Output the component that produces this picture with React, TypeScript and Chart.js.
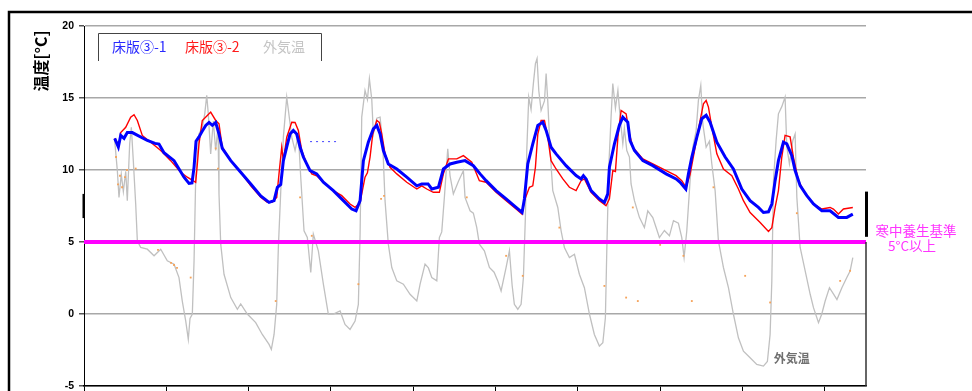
import React, { useEffect, useRef } from "react";
import { Chart, registerables } from "chart.js";
Chart.register(...registerables);

// ---- axes / labels ----
const xTickValues = [0, 1, 2, 3, 4, 5, 6, 7, 8, 9];
const yTickValues = [-5, 0, 5, 10, 15, 20];
const seriesNames = ["床版③-1", "床版③-2", "外気温"];
const yTitle = "温度[°C]";
const thresholdLines = ["寒中養生基準", "5°C以上"];
const outsideLabel = "外気温";
const thresholdValue = 5;

// ---- 床版③-1 (blue) ----
const blueT = [0.373,0.417,0.446,0.486,0.526,0.587,0.769,0.863,0.911,0.972,
1.094,1.215,1.276,1.312,1.337,1.361,1.397,1.437,1.479,1.519,
1.559,1.6,1.64,1.68,1.783,1.904,2.026,2.147,2.248,2.309,
2.349,2.39,2.422,2.463,2.503,2.543,2.584,2.625,2.665,2.746,
2.827,2.908,3.029,3.151,3.253,3.305,3.354,3.394,3.454,3.515,
3.557,3.597,3.637,3.697,3.8,3.921,4.043,4.103,4.18,4.225,
4.305,4.366,4.447,4.529,4.629,4.73,4.812,4.885,5.006,5.128,
5.249,5.322,5.35,5.391,5.452,5.513,5.573,5.614,5.674,5.735,
5.856,5.978,6.039,6.067,6.1,6.16,6.261,6.322,6.363,6.383,
6.444,6.504,6.546,6.606,6.634,6.687,6.789,6.91,7.072,7.193,
7.242,7.311,7.343,7.384,7.445,7.505,7.558,7.606,7.688,7.789,
7.889,7.991,8.092,8.193,8.254,8.315,8.356,8.396,8.436,8.497,
8.538,8.599,8.639,8.7,8.781,8.862,8.963,9.064,9.165,9.267,
9.34];
const blueV = [12.2,11.6,12.4,12.2,12.6,12.6,12.05,11.85,11.8,11.2,
10.65,9.5,9.07,9.1,10.2,12.0,12.3,12.7,13.1,13.3,
13.1,13.3,12.5,11.5,10.65,9.84,9.03,8.2,7.75,7.87,
8.8,9.0,10.65,11.6,12.5,12.75,12.5,11.6,10.9,9.96,
9.73,9.15,8.57,7.87,7.29,7.17,7.87,10.65,11.93,12.86,
13.1,12.5,11.35,10.42,10.07,9.5,8.9,9.03,9.03,8.68,
8.8,10.07,10.42,10.54,10.65,10.3,9.73,9.26,8.57,7.99,
7.4,7.05,7.99,10.42,11.82,13.1,13.32,12.75,11.58,11.12,
10.3,9.61,9.38,9.61,9.38,8.57,7.99,7.75,8.34,10.19,
11.82,13.1,13.67,13.32,12.05,11.35,10.65,10.3,9.73,9.38,
9.15,8.68,9.73,10.9,12.28,13.56,13.8,13.32,11.93,10.9,
10.07,8.68,7.87,7.4,7.05,7.1,7.64,9.26,10.65,11.93,
11.82,11.0,9.96,8.91,8.22,7.64,7.17,7.17,6.71,6.71,
6.94];

// ---- 床版③-2 (red) ----
const redT = [0.373,0.425,0.446,0.507,0.567,0.608,0.648,0.708,0.81,0.932,
1.053,1.175,1.255,1.357,1.377,1.397,1.437,1.498,1.539,1.6,
1.64,1.68,1.783,1.904,2.026,2.147,2.227,2.284,2.341,2.369,
2.402,2.422,2.463,2.524,2.564,2.604,2.645,2.706,2.767,2.827,
2.908,3.029,3.131,3.232,3.293,3.354,3.414,3.443,3.475,3.508,
3.557,3.588,3.617,3.657,3.718,3.8,3.921,4.043,4.103,4.164,
4.244,4.317,4.366,4.427,4.529,4.609,4.711,4.803,4.885,5.006,
5.128,5.249,5.322,5.35,5.411,5.452,5.484,5.513,5.553,5.594,
5.634,5.674,5.735,5.817,5.897,5.978,6.039,6.079,6.16,6.261,
6.342,6.383,6.424,6.456,6.486,6.525,6.586,6.626,6.667,6.789,
6.91,7.072,7.193,7.262,7.315,7.363,7.424,7.485,7.525,7.558,
7.586,7.627,7.688,7.768,7.87,7.95,8.011,8.092,8.214,8.315,
8.356,8.396,8.436,8.477,8.517,8.578,8.618,8.679,8.761,8.862,
8.963,9.064,9.104,9.165,9.226,9.34];
const redV = [12.2,11.7,12.6,12.97,13.67,13.84,13.44,12.4,11.93,11.35,
10.65,9.84,9.5,9.15,10.42,11.82,13.44,13.79,14.02,13.44,
13.21,11.58,10.65,9.84,8.91,8.1,7.75,7.75,8.1,9.73,
11.58,10.65,12.28,13.32,13.3,12.75,11.35,10.42,9.73,9.6,
9.15,8.57,8.22,7.64,7.4,7.75,9.5,9.8,10.9,12.5,
13.44,13.3,12.5,11.12,10.19,9.73,9.15,8.68,8.9,8.68,
8.45,8.45,9.73,10.77,10.77,11.0,10.54,9.26,9.15,8.45,
7.87,7.29,6.94,7.87,8.8,8.9,10.19,12.5,13.44,13.44,
12.28,10.65,10.07,9.38,8.8,8.57,9.26,9.38,8.45,7.87,
7.52,8.0,9.96,9.9,12.28,14.14,13.9,12.5,11.58,10.77,
10.42,9.96,9.61,9.26,8.8,9.7,11.58,13.44,14.6,14.83,
14.37,12.97,11.12,10.07,9.61,8.68,7.87,7.05,6.36,5.73,
6.0,7.4,8.57,10.9,12.4,12.3,10.9,9.26,8.34,7.64,
7.29,7.4,7.29,6.94,7.29,7.4];

// ---- 外気温 (gray) ----
const grayT = [0.373,0.405,0.425,0.453,0.478,0.507,0.526,0.555,0.575,0.599,
0.628,0.648,0.689,0.769,0.851,0.932,1.012,1.094,1.154,1.194,
1.236,1.267,1.288,1.316,1.337,1.357,1.397,1.437,1.467,1.491,
1.51,1.539,1.571,1.6,1.628,1.64,1.661,1.701,1.783,1.863,
1.904,1.984,2.086,2.166,2.248,2.276,2.309,2.341,2.361,2.39,
2.422,2.463,2.482,2.524,2.564,2.604,2.633,2.673,2.713,2.755,
2.786,2.847,2.908,2.968,3.029,3.111,3.171,3.232,3.293,3.333,
3.354,3.374,3.414,3.443,3.467,3.496,3.515,3.557,3.597,3.629,
3.657,3.697,3.739,3.8,3.88,3.961,4.043,4.083,4.143,4.184,
4.225,4.286,4.317,4.346,4.378,4.419,4.447,4.487,4.548,4.609,
4.629,4.69,4.73,4.771,4.803,4.864,4.925,4.982,5.027,5.067,
5.128,5.168,5.201,5.228,5.27,5.31,5.338,5.362,5.379,5.403,
5.431,5.459,5.484,5.504,5.525,5.553,5.594,5.614,5.634,5.662,
5.695,5.756,5.796,5.836,5.897,5.958,6.018,6.079,6.14,6.2,
6.261,6.303,6.334,6.351,6.375,6.403,6.424,6.456,6.486,6.513,
6.546,6.565,6.594,6.626,6.646,6.687,6.747,6.808,6.849,6.91,
6.95,6.99,7.051,7.112,7.161,7.221,7.262,7.29,7.323,7.363,
7.396,7.436,7.464,7.493,7.518,7.558,7.598,7.627,7.667,7.707,
7.768,7.829,7.889,7.95,8.011,8.092,8.173,8.254,8.302,8.335,
8.356,8.376,8.408,8.436,8.477,8.517,8.538,8.57,8.611,8.639,
8.66,8.7,8.761,8.822,8.862,8.923,8.963,9.004,9.056,9.104,
9.147,9.207,9.267,9.307,9.34];
const grayV = [12.05,9.96,8.1,9.7,8.5,9.9,7.87,11.82,12.97,10.65,
7.64,5.08,4.62,4.5,4.04,4.5,3.69,3.46,2.53,0.9,
-0.49,-1.76,-0.3,0,3.69,9.5,12.5,12.97,13.9,15.18,
13.9,11.12,13.4,11.35,13.0,8.34,4.85,2.76,1.14,0.33,
0.7,0,-0.6,-1.42,-2.11,-2.46,-1.42,0.67,4.62,8.5,
12.28,15.06,14.2,12.28,11.35,12.5,9.5,5.78,5.31,2.88,
5.55,4.39,2.07,0,0,0.21,-0.72,-1.07,-0.49,0.67,
5.55,13.67,15.53,14.9,16.34,14.9,12.5,13.6,13.67,11.82,
7.87,4.85,3.23,2.3,2.07,1.37,0.9,2.07,3.46,3.2,
2.53,2.3,5.31,5.7,8.1,11.47,9.6,8.34,9.2,9.96,
8.1,7.17,7.0,6.01,4.85,4.39,3.23,2.9,2.3,1.6,
3.23,4.39,2.0,0.67,0.33,0.67,2.53,6.71,11.35,15.06,
14.2,16.0,17.39,17.74,15.5,14.14,14.8,16.69,14.8,11.35,
8.57,7.4,5.78,4.62,3.92,4.15,2.76,1.83,0,-1.42,
-2.23,-2.0,-0.26,4.39,10.19,13.67,16.0,14.3,15.53,13.67,
11.82,12.9,11.35,10.9,9.03,7.87,6.71,6.0,7.17,6.7,
6.01,5.31,5.8,5.43,6.48,6.3,5.3,3.92,5.78,9.26,
11.58,12.7,14.83,15.88,13.2,11.58,12.0,10.42,8.57,5.08,
3.23,1.83,0,-1.65,-2.58,-3.04,-3.5,-3.62,-3.3,-1.42,
2.3,9.26,12.05,13.9,14.4,15.06,11.6,10.42,12.05,12.5,
8.1,4.62,2.99,1.37,0.44,-0.6,0,0.9,1.83,1.4,
1.0,1.83,2.53,2.99,3.92];

// ---- scattered orange readings ----
const orangeT = [0.389,0.413,0.437,0.462,0.498,0.522,0.628,0.899,1.057,1.094,1.13,1.296,1.6,1.628,2.329,2.625,2.767,3.333,3.609,3.645,4.65,5.128,5.33,5.775,6.322,6.586,6.667,6.728,6.999,7.282,7.384,7.647,8.032,8.335,8.66,9.186,9.307];
const orangeV = [10.9,9.0,9.6,8.8,9.5,10.0,10.1,4.45,3.55,3.4,3.2,2.53,11.5,10.1,0.9,8.1,5.43,2.07,8.0,8.2,8.1,4.04,2.65,6.0,1.95,1.14,7.4,0.9,4.8,4.04,0.9,8.8,2.65,0.8,7.0,2.3,3.0];

// ---- short blue dotted fragment ----
const blueDotT = [2.746, 3.086];
const blueDotV = [11.97, 11.97];

// bracket marks at plot edges (value ranges)
const leftBracket = [8.34, 6.66];
const rightBracket = [8.5, 5.36];

const pts = (t: number[], v: number[]) => t.map((x, i) => ({ x, y: v[i] }));

const CJK = '"Noto Sans CJK JP", "Noto Sans", sans-serif';

const decorPlugin = {
  id: "decor",
  beforeDraw(chart: any) {
    const ctx = chart.ctx;
    ctx.save();
    ctx.fillStyle = "#ffffff";
    ctx.fillRect(0, 0, chart.width, chart.height);
    ctx.restore();
  },
  afterDraw(chart: any) {
    const ctx = chart.ctx;
    const { left, right } = chart.chartArea;
    const xs = chart.scales.x;
    const ys = chart.scales.y;
    ctx.save();

    // outer frame
    ctx.strokeStyle = "#000";
    ctx.lineWidth = 2.5;
    ctx.beginPath();
    ctx.moveTo(9, chart.height + 2);
    ctx.lineTo(9, 12);
    ctx.lineTo(chart.width + 2, 12);
    ctx.stroke();

    // right border (lower part)
    ctx.strokeStyle = "#333";
    ctx.lineWidth = 1.5;
    ctx.beginPath();
    ctx.moveTo(right, ys.getPixelForValue(thresholdValue));
    ctx.lineTo(right, ys.getPixelForValue(-5));
    ctx.stroke();

    // brackets
    ctx.strokeStyle = "#000";
    ctx.lineWidth = 2;
    ctx.beginPath();
    ctx.moveTo(left - 0.5, ys.getPixelForValue(leftBracket[0]));
    ctx.lineTo(left - 0.5, ys.getPixelForValue(leftBracket[1]));
    ctx.stroke();
    ctx.lineWidth = 3;
    ctx.beginPath();
    ctx.moveTo(right + 0.5, ys.getPixelForValue(rightBracket[0]));
    ctx.lineTo(right + 0.5, ys.getPixelForValue(rightBracket[1]));
    ctx.stroke();

    // y title
    ctx.save();
    ctx.translate(41, 61);
    ctx.rotate(-Math.PI / 2);
    ctx.fillStyle = "#000";
    ctx.font = `bold 16px ${CJK}`;
    ctx.textAlign = "center";
    ctx.textBaseline = "middle";
    ctx.fillText(yTitle, 0, 0);
    ctx.restore();

    // legend box
    ctx.strokeStyle = "#444";
    ctx.lineWidth = 1;
    ctx.beginPath();
    ctx.moveTo(left + 14.5, 61);
    ctx.lineTo(left + 14.5, 33.5);
    ctx.lineTo(left + 237.5, 33.5);
    ctx.lineTo(left + 237.5, 61);
    ctx.stroke();
    const legendColors = ["#2a2aff", "#ff1a1a", "#c4c4c4"];
    const legendX = [left + 28, left + 101, left + 179];
    ctx.font = `14px ${CJK}`;
    ctx.textAlign = "left";
    ctx.textBaseline = "middle";
    seriesNames.forEach((n, i) => {
      ctx.fillStyle = legendColors[i];
      ctx.fillText(n, legendX[i], 47);
    });

    // threshold annotation
    const yT = ys.getPixelForValue(thresholdValue);
    ctx.fillStyle = "#ff33ff";
    ctx.font = `13.5px ${CJK}`;
    ctx.textAlign = "center";
    ctx.fillText(thresholdLines[0], right + 50, yT - 11);
    ctx.fillText(thresholdLines[1], right + 46, yT + 4);

    // outside temp label
    ctx.fillStyle = "#707070";
    ctx.font = `bold 12px ${CJK}`;
    ctx.textAlign = "left";
    ctx.fillText(outsideLabel, xs.getPixelForValue(8.38), ys.getPixelForValue(-3.1));

    ctx.restore();
  },
};

export default function App() {
  const ref = useRef<HTMLCanvasElement | null>(null);
  useEffect(() => {
    if (!ref.current) return;
    const chart = new Chart(ref.current, {
      type: "line",
      data: {
        datasets: [
          {
            label: seriesNames[0],
            data: pts(blueT, blueV),
            borderColor: "#0000ff",
            borderWidth: 3,
            pointRadius: 0,
            tension: 0,
          },
          {
            label: seriesNames[1],
            data: pts(redT, redV),
            borderColor: "#ff0000",
            borderWidth: 1.4,
            pointRadius: 0,
            tension: 0,
          },
          {
            label: "基準",
            data: [
              { x: 0, y: thresholdValue },
              { x: 9.5, y: thresholdValue },
            ],
            borderColor: "#ff00ff",
            borderWidth: 4,
            pointRadius: 0,
          },
          {
            label: "dots",
            data: pts(blueDotT, blueDotV),
            borderColor: "#4040ff",
            borderWidth: 1,
            borderDash: [2, 4],
            pointRadius: 0,
          },
          {
            label: "orange",
            data: pts(orangeT, orangeV),
            showLine: false,
            pointRadius: 1.3,
            pointStyle: "rect",
            pointBackgroundColor: "#f5a35a",
            pointBorderWidth: 0,
            borderColor: "#f5a35a",
          },
          {
            label: seriesNames[2],
            data: pts(grayT, grayV),
            borderColor: "#c0c0c0",
            borderWidth: 1.3,
            pointRadius: 0,
            tension: 0,
          },
        ],
      },
      options: {
        responsive: false,
        animation: false,
        events: [],
        layout: { padding: { top: 26, right: 106, bottom: 0, left: 0 } },
        plugins: { legend: { display: false }, tooltip: { enabled: false }, title: { display: false } },
        scales: {
          x: {
            type: "linear",
            min: 0,
            max: 9.5,
            afterBuildTicks: (axis: any) => {
              axis.ticks = xTickValues.map((v) => ({ value: v }));
            },
            afterFit: (scale: any) => {
              scale.height = 5;
              scale.paddingLeft = 0;
              scale.paddingRight = 0;
            },
            ticks: { display: false },
            grid: { drawOnChartArea: false, drawTicks: true, tickLength: 5, color: "#000", tickColor: "#000" },
            border: { color: "#000", width: 1.5 },
          },
          y: {
            type: "linear",
            min: -5,
            max: 20,
            afterBuildTicks: (axis: any) => {
              axis.ticks = yTickValues.map((v) => ({ value: v }));
            },
            afterFit: (scale: any) => {
              scale.width = 84;
              scale.paddingTop = 0;
              scale.paddingBottom = 0;
            },
            ticks: {
              color: "#000",
              padding: 5,
              font: { family: '"Liberation Sans", Arial, sans-serif', size: 10.5, weight: "bold" },
              callback: (v: any) => String(v),
            },
            grid: {
              color: "#a8a8a8",
              lineWidth: 1.5,
              tickLength: 5,
              tickColor: "#555",
            },
            border: { color: "#000", width: 1 },
          },
        },
      },
      plugins: [decorPlugin],
    } as any);
    return () => chart.destroy();
  }, []);
  return (
    <div style={{ position: "fixed", left: 0, top: 0, width: 972, height: 391, background: "#fff" }}>
      <canvas ref={ref} width={972} height={391} style={{ display: "block" }} />
    </div>
  );
}
